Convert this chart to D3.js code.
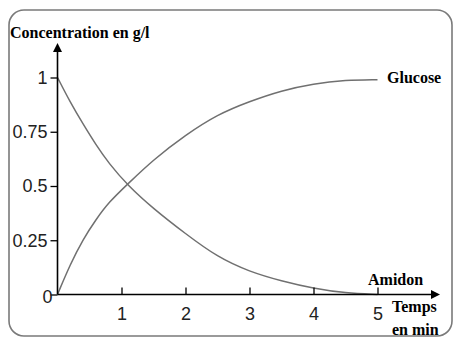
<!DOCTYPE html>
<html>
<head>
<meta charset="utf-8">
<script src="https://cdn.jsdelivr.net/npm/d3@7"></script>
<style>
  html, body { margin: 0; padding: 0; background: #fff; }
  svg { display: block; }
</style>
</head>
<body>
<svg id="chart" width="455" height="339"></svg>
<script>
// ---- data ----
const times   = [0, 0.2, 0.4, 0.6, 0.8, 1.1, 1.5, 2, 2.5, 3, 3.5, 4, 4.5, 5];
const amidon  = [1, 0.885, 0.785, 0.69, 0.605, 0.502, 0.395, 0.28, 0.172, 0.105, 0.062, 0.028, 0.006, 0];
const glucose = [0, 0.14, 0.255, 0.345, 0.425, 0.51, 0.622, 0.735, 0.83, 0.89, 0.94, 0.972, 0.988, 0.99];
const xTicks = [1, 2, 3, 4, 5];
const yTicks = [0, 0.25, 0.5, 0.75, 1];
const yTickLabels = ["0", "0.25", "0.5", "0.75", "1"];
const title = "Concentration en g/l";
const seriesNames = ["Glucose", "Amidon"];
const xAxisTitle = ["Temps", "en min"];

const svg = d3.select("#chart");
const serif = "'Liberation Serif', 'Times New Roman', serif";
const sans = "'Liberation Sans', Arial, sans-serif";

// frame
svg.append("rect")
  .attr("x", 9).attr("y", 10).attr("width", 443).attr("height", 326)
  .attr("rx", 15).attr("ry", 15)
  .attr("fill", "#fff").attr("stroke", "#7a7a7a").attr("stroke-width", 1.6);

const x = d3.scaleLinear().domain([0, 5]).range([57.5, 377.5]);
const y = d3.scaleLinear().domain([0, 1]).range([294.5, 77.5]);

// curves
const line = d3.line()
  .x(d => x(d[0])).y(d => y(d[1]))
  .curve(d3.curveBasis);

[amidon, glucose].forEach(vals => {
  svg.append("path")
    .datum(times.map((t, i) => [t, vals[i]]))
    .attr("d", line)
    .attr("fill", "none")
    .attr("stroke", "#707070")
    .attr("stroke-width", 1.5);
});

// x axis (ticks pointing up, labels below)
const gx = svg.append("g")
  .attr("transform", `translate(0,${y(0)})`)
  .call(d3.axisBottom(x).tickValues(xTicks).tickSizeInner(-7).tickSizeOuter(0).tickPadding(13).tickFormat(d3.format("d")));
gx.select(".domain").remove();
gx.selectAll("line").attr("stroke", "#000").attr("stroke-width", 1.3);
gx.selectAll("text").attr("font-family", sans).attr("font-size", 18).attr("fill", "#222");

// y axis
const gy = svg.append("g")
  .attr("transform", `translate(${x(0)},0)`)
  .call(d3.axisLeft(y).tickValues(yTicks).tickSize(7).tickPadding(3)
    .tickFormat((d, i) => yTickLabels[i]));
gy.select(".domain").remove();
gy.selectAll("line").attr("stroke", "#000").attr("stroke-width", 1.3);
gy.selectAll("text").attr("font-family", sans).attr("font-size", 18).attr("fill", "#222");
gy.selectAll(".tick").filter(d => d === 0).select("text").attr("x", -5).attr("dy", "0.45em");

// axis lines with arrowheads
const x0 = x(0), y0 = y(0);
svg.append("line").attr("x1", x0).attr("y1", y0).attr("x2", 432).attr("y2", y0)
  .attr("stroke", "#000").attr("stroke-width", 1.6);
svg.append("path").attr("d", `M440,${y0} L431,${y0 - 4.5} L431,${y0 + 4.5} Z`).attr("fill", "#000");
svg.append("line").attr("x1", x0).attr("y1", y0).attr("x2", x0).attr("y2", 51)
  .attr("stroke", "#000").attr("stroke-width", 1.6);
svg.append("path").attr("d", `M${x0},43 L${x0 - 4.5},52 L${x0 + 4.5},52 Z`).attr("fill", "#000");

// texts
const txt = (s, tx, ty) => svg.append("text").attr("x", tx).attr("y", ty)
  .attr("font-family", serif).attr("font-weight", "bold").attr("font-size", 16)
  .attr("fill", "#000").text(s);
txt(title, 10, 38);
txt(seriesNames[0], 387, 83);
txt(seriesNames[1], 368, 285);
txt(xAxisTitle[0], 392, 312);
txt(xAxisTitle[1], 392, 335);
</script>
</body>
</html>
